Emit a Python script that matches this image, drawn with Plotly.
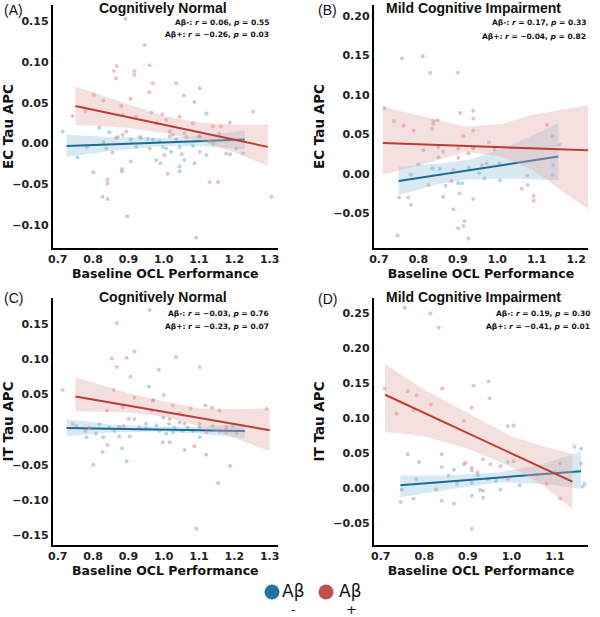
import plotly.graph_objects as go

# ---- panel A: EC tau, cognitively normal ----
a_neg_x = [0.714, 0.756, 0.818, 0.801, 0.846, 0.855, 0.870, 0.884, 0.907, 0.907, 0.922, 0.936, 0.955, 0.969,
           0.960, 0.965, 0.979, 0.988, 0.991, 0.998, 1.007, 1.017, 1.021, 1.035, 1.045, 1.045, 1.045, 1.059,
           1.059, 1.087, 1.087, 1.083, 1.100, 1.121, 1.121, 1.092, 0.897, 0.841, 0.882, 1.187, 1.188, 1.205,
           1.224, 1.158, 1.139, 0.782, 0.829]
a_neg_y = [0.015, -0.017, 0.019, -0.035, 0.014, -0.011, 0.008, 0.011, 0.005, -0.022, -0.004, 0.007, 0.006, 0.005,
           0.096, 0.038, -0.020, 0.003, -0.024, -0.004, -0.006, 0.009, -0.010, 0.005, -0.004, -0.028, -0.034, 0.013,
           -0.020, 0.051, -0.024, -0.003, 0.009, 0.037, -0.014, -0.115, -0.089, -0.068, -0.034, 0.026, -0.013, -0.006,
           -0.012, 0.012, 0.000, -0.004, 0.002]
a_pos_x = [0.892, 0.946, 0.867, 0.859, 0.917, 0.917, 0.865, 0.969, 1.035, 0.959, 1.102, 0.802, 1.057, 0.906,
           0.829, 0.742, 0.880, 0.996, 0.778, 0.884, 0.922, 1.045, 1.007, 0.979, 1.083, 1.139, 1.162, 1.253,
           1.017, 1.026, 1.064, 1.102, 1.130, 1.196, 0.865, 0.894, 0.932, 0.837, 0.960, 1.002, 1.102, 0.882,
           0.841, 0.841, 1.130, 1.154, 1.305, 0.827, 1.011, 1.051, 1.177]
a_pos_y = [0.153, 0.121, 0.095, 0.089, 0.089, 0.084, 0.080, 0.074, 0.074, 0.063, 0.068, 0.060, 0.059, 0.055,
           0.053, 0.034, 0.046, 0.036, 0.040, 0.035, 0.033, 0.033, 0.029, 0.025, 0.025, 0.021, 0.021, 0.039,
           0.015, 0.011, 0.008, 0.009, 0.003, 0.005, 0.007, 0.015, 0.008, -0.006, -0.006, -0.014, -0.010, -0.031,
           -0.044, -0.049, -0.047, -0.047, -0.065, -0.065, -0.037, -0.013, -0.012]
a_neg_fit_x = [0.725, 1.23]
a_neg_fit_y = [-0.003, 0.005]
a_neg_band_x = [0.725, 0.85, 1.0, 1.1, 1.23]
a_neg_band_hi = [0.011, 0.008, 0.007, 0.009, 0.016]
a_neg_band_lo = [-0.016, -0.009, -0.003, -0.003, -0.007]
a_pos_fit_x = [0.75, 1.295]
a_pos_fit_y = [0.046, -0.004]
a_pos_band_x = [0.75, 0.9, 1.0, 1.1, 1.2, 1.295]
a_pos_band_hi = [0.070, 0.048, 0.034, 0.026, 0.023, 0.023]
a_pos_band_lo = [0.023, 0.019, 0.013, 0.004, -0.011, -0.027]

# ---- panel B: EC tau, MCI ----
b_neg_x = [0.751, 0.781, 0.781, 0.800, 0.836, 0.849, 0.835, 0.851, 0.863, 0.863, 0.869, 0.889, 0.901, 0.911,
           0.901, 0.917, 0.928, 0.939, 0.954, 0.967, 0.973, 0.979, 1.006, 1.007, 1.077, 1.142, 1.140, 1.158,
           0.854]
b_neg_y = [-0.030, -0.039, -0.001, 0.012, 0.007, 0.068, 0.057, 0.021, 0.028, -0.029, -0.015, -0.045, -0.012, -0.012,
           -0.069, -0.060, 0.008, -0.032, 0.001, -0.006, 0.013, 0.040, 0.013, -0.008, -0.014, 0.011, -0.001, 0.037,
           0.006]
b_pos_x = [0.714, 0.738, 0.763, 0.758, 0.811, 0.830, 0.900, 0.788, 0.813, 0.838, 0.838, 0.906, 0.914, 0.939,
           0.939, 0.939, 0.939, 0.939, 0.927, 0.901, 0.901, 0.904, 0.774, 0.747, 0.914, 0.927, 0.825, 0.884,
           0.993, 1.126, 1.140, 1.076, 1.062, 1.092, 1.092, 0.889, 0.961, 0.851]
b_pos_y = [0.083, 0.067, 0.061, 0.146, 0.149, 0.128, 0.128, 0.055, 0.030, 0.067, 0.063, 0.077, 0.048, 0.080,
           0.070, 0.055, 0.034, 0.032, 0.026, 0.032, 0.020, -0.025, -0.030, -0.078, -0.066, -0.082, -0.014, -0.009,
           0.031, 0.062, 0.048, -0.002, -0.019, -0.028, -0.034, 0.005, 0.011, 0.034]
b_neg_fit_x = [0.75, 1.155]
b_neg_fit_y = [-0.009, 0.022]
b_neg_band_x = [0.75, 0.85, 0.93, 1.03, 1.155]
b_neg_band_hi = [0.009, 0.013, 0.018, 0.035, 0.064]
b_neg_band_lo = [-0.027, -0.013, -0.007, -0.006, -0.008]
b_pos_fit_x = [0.71, 1.23]
b_pos_fit_y = [0.039, 0.030]
b_pos_band_x = [0.71, 0.82, 0.92, 1.01, 1.09, 1.23]
b_pos_band_hi = [0.085, 0.072, 0.060, 0.063, 0.075, 0.087]
b_pos_band_lo = [-0.001, 0.013, 0.028, 0.022, 0.005, -0.045]

# ---- panel C: IT tau, cognitively normal ----
c_neg_x = [0.714, 0.801, 0.827, 0.895, 0.882, 0.958, 0.971, 1.118, 1.120, 1.092, 0.778, 0.782, 0.808, 0.818,
           0.829, 0.846, 0.860, 0.874, 0.874, 0.904, 0.917, 0.931, 0.950, 0.950, 0.979, 0.988, 0.999, 1.007,
           1.015, 1.026, 1.031, 1.045, 1.054, 1.068, 1.083, 1.102, 1.102, 1.139, 1.158, 1.177, 1.196, 1.207,
           0.997, 0.752]
c_neg_y = [0.056, -0.050, -0.032, -0.045, -0.027, 0.061, 0.042, 0.034, -0.036, -0.141, -0.002, -0.011, -0.006, 0.007,
           -0.011, 0.003, -0.002, 0.004, -0.010, -0.010, 0.015, 0.003, 0.008, 0.001, 0.006, -0.002, 0.017, -0.006,
           0.008, -0.004, 0.003, 0.010, -0.002, 0.003, -0.002, 0.003, -0.011, 0.005, -0.003, -0.004, 0.005, -0.005,
           -0.018, 0.005]
c_pos_x = [0.960, 0.867, 0.917, 0.853, 0.895, 0.867, 1.035, 1.102, 0.986, 0.906, 0.858, 0.917, 1.000, 0.969,
           0.839, 0.742, 0.884, 0.965, 1.026, 1.076, 1.137, 1.158, 1.291, 1.045, 1.017, 0.901, 0.887, 1.059,
           1.102, 1.121, 1.177, 0.841, 1.017, 1.059, 1.087, 1.188, 1.154, 0.790]
c_pos_y = [0.170, 0.151, 0.111, 0.101, 0.102, 0.089, 0.103, 0.089, 0.085, 0.075, 0.056, 0.045, 0.049, 0.041,
           0.027, 0.008, 0.032, 0.027, 0.034, 0.030, 0.031, 0.027, 0.029, 0.023, 0.015, 0.015, 0.005, 0.008,
           0.008, -0.004, 0.003, -0.022, -0.018, -0.029, -0.024, -0.052, -0.076, 0.003]
c_neg_fit_x = [0.725, 1.23]
c_neg_fit_y = [0.002, -0.002]
c_neg_band_x = [0.725, 0.85, 1.0, 1.1, 1.23]
c_neg_band_hi = [0.015, 0.007, 0.004, 0.004, 0.008]
c_neg_band_lo = [-0.010, -0.004, -0.003, -0.006, -0.012]
c_pos_fit_x = [0.75, 1.30]
c_pos_fit_y = [0.047, -0.001]
c_pos_band_x = [0.75, 0.9, 1.0, 1.1, 1.2, 1.30]
c_pos_band_hi = [0.074, 0.052, 0.040, 0.030, 0.029, 0.030]
c_pos_band_lo = [0.026, 0.024, 0.018, 0.005, -0.012, -0.031]

# ---- panel D: IT tau, MCI ----
d_neg_x = [0.762, 0.782, 0.775, 0.748, 0.840, 0.840, 0.855, 0.868, 0.868, 0.875, 0.891, 0.909, 0.909, 0.909,
           0.909, 0.923, 0.928, 0.965, 0.975, 0.992, 0.992, 1.019, 1.058, 1.100, 1.164, 1.160, 1.168, 0.946]
d_neg_y = [0.048, 0.013, -0.015, -0.002, 0.048, -0.018, 0.018, 0.026, -0.022, 0.006, 0.034, 0.025, 0.007, -0.011,
           -0.058, 0.018, -0.003, 0.010, -0.002, 0.088, 0.037, 0.004, 0.019, 0.023, 0.002, 0.056, 0.006, 0.013]
d_pos_x = [0.755, 0.814, 0.833, 0.709, 0.762, 0.782, 0.841, 0.736, 0.775, 0.815, 0.913, 0.948, 0.950, 0.909,
           0.891, 1.005, 0.788, 0.840, 0.895, 0.909, 0.935, 0.952, 0.975, 1.005, 0.922, 0.827, 0.935, 0.935,
           0.746, 1.081, 1.112, 1.112, 1.145, 1.160, 0.992]
d_pos_y = [0.257, 0.249, 0.229, 0.142, 0.138, 0.132, 0.142, 0.106, 0.111, 0.119, 0.146, 0.152, 0.128, 0.115,
           0.096, 0.089, 0.037, 0.030, 0.036, 0.029, 0.041, 0.034, 0.031, 0.038, 0.022, -0.002, -0.004, -0.014,
           -0.020, 0.006, -0.015, 0.035, 0.059, 0.035, 0.013]
d_neg_fit_x = [0.745, 1.16]
d_neg_fit_y = [0.004, 0.024]
d_neg_band_x = [0.745, 0.85, 0.97, 1.07, 1.16]
d_neg_band_hi = [0.018, 0.018, 0.022, 0.034, 0.052]
d_neg_band_lo = [-0.013, -0.003, 0.008, 0.006, -0.001]
d_pos_fit_x = [0.71, 1.14]
d_pos_fit_y = [0.133, 0.009]
d_pos_band_x = [0.71, 0.8, 0.9, 1.0, 1.07, 1.14]
d_pos_band_hi = [0.177, 0.140, 0.107, 0.074, 0.060, 0.049]
d_pos_band_lo = [0.080, 0.074, 0.056, 0.030, 0.005, -0.030]

NEG_PT = "rgba(120,180,210,0.55)"
POS_PT = "rgba(225,140,140,0.55)"
NEG_LINE = "#1a6a98"
POS_LINE = "#bf3b30"
NEG_BAND = "rgba(160,200,220,0.40)"
POS_BAND = "rgba(225,165,165,0.35)"

TICKFONT = dict(family="DejaVu Sans", size=11, color="#222", weight="bold")
AXTITLE = dict(family="DejaVu Sans", size=12.5, color="#111", weight="bold")

fig = go.Figure()


def add_group(ax, px, py, fx, fy, bx, bhi, blo, pt, line, band):
    xa, ya = ("x" + ax, "y" + ax) if ax else ("x", "y")
    fig.add_trace(go.Scatter(x=bx + bx[::-1], y=bhi + blo[::-1], fill="toself", fillcolor=band,
                             line=dict(width=0), mode="lines", hoverinfo="skip", showlegend=False,
                             xaxis=xa, yaxis=ya))
    fig.add_trace(go.Scatter(x=px, y=py, mode="markers", marker=dict(size=4, color=pt),
                             showlegend=False, xaxis=xa, yaxis=ya))
    fig.add_trace(go.Scatter(x=fx, y=fy, mode="lines", line=dict(color=line, width=2),
                             showlegend=False, xaxis=xa, yaxis=ya))


panels = [
    ("", a_neg_x, a_neg_y, a_neg_fit_x, a_neg_fit_y, a_neg_band_x, a_neg_band_hi, a_neg_band_lo,
     a_pos_x, a_pos_y, a_pos_fit_x, a_pos_fit_y, a_pos_band_x, a_pos_band_hi, a_pos_band_lo),
    ("2", b_neg_x, b_neg_y, b_neg_fit_x, b_neg_fit_y, b_neg_band_x, b_neg_band_hi, b_neg_band_lo,
     b_pos_x, b_pos_y, b_pos_fit_x, b_pos_fit_y, b_pos_band_x, b_pos_band_hi, b_pos_band_lo),
    ("3", c_neg_x, c_neg_y, c_neg_fit_x, c_neg_fit_y, c_neg_band_x, c_neg_band_hi, c_neg_band_lo,
     c_pos_x, c_pos_y, c_pos_fit_x, c_pos_fit_y, c_pos_band_x, c_pos_band_hi, c_pos_band_lo),
    ("4", d_neg_x, d_neg_y, d_neg_fit_x, d_neg_fit_y, d_neg_band_x, d_neg_band_hi, d_neg_band_lo,
     d_pos_x, d_pos_y, d_pos_fit_x, d_pos_fit_y, d_pos_band_x, d_pos_band_hi, d_pos_band_lo),
]
for p in panels:
    add_group(p[0], *p[1:8], NEG_PT, NEG_LINE, NEG_BAND)
    add_group(p[0], *p[8:15], POS_PT, POS_LINE, POS_BAND)


def xax(dom, rng, tv, anchor):
    return dict(domain=dom, range=rng, tickvals=tv, tickformat=".1f", showline=True, linecolor="black",
                linewidth=2, showgrid=False, zeroline=False, ticks="", tickfont=TICKFONT, anchor=anchor,
                automargin=False, title=dict(text="Baseline OCL Performance", font=AXTITLE, standoff=0))


def yax(dom, rng, tv, anchor, title):
    return dict(domain=dom, range=rng, tickvals=tv, tickformat=".2f", showline=True, linecolor="black",
                linewidth=2, showgrid=False, zeroline=False, ticks="", tickfont=TICKFONT, anchor=anchor,
                automargin=False,
                title=dict(text=title, font=dict(family="DejaVu Sans", size=13.5, color="#111", weight="bold"),
                           standoff=6))


top_dom = [0.598, 0.992]
bot_dom = [0.117, 0.517]
left_dom = [0.088, 0.463]
right_dom = [0.623, 0.98]

fig.update_layout(
    width=600, height=617, margin=dict(l=0, r=0, t=0, b=0, autoexpand=False),
    plot_bgcolor="white", paper_bgcolor="white", showlegend=False,
    xaxis=xax(left_dom, [0.686, 1.323], [0.7, 0.8, 0.9, 1.0, 1.1, 1.2, 1.3], "y"),
    yaxis=yax(top_dom, [-0.128, 0.17], [-0.10, -0.05, 0.0, 0.05, 0.10, 0.15], "x", "EC Tau APC"),
    xaxis2=xax(right_dom, [0.687, 1.23], [0.7, 0.8, 0.9, 1.0, 1.1, 1.2], "y2"),
    yaxis2=yax(top_dom, [-0.094, 0.214], [-0.05, 0.0, 0.05, 0.10, 0.15, 0.20], "x2", "EC Tau APC"),
    xaxis3=xax(left_dom, [0.686, 1.323], [0.7, 0.8, 0.9, 1.0, 1.1, 1.2, 1.3], "y3"),
    yaxis3=yax(bot_dom, [-0.164, 0.187], [-0.15, -0.10, -0.05, 0.0, 0.05, 0.10, 0.15], "x3", "IT Tau APC"),
    xaxis4=xax(right_dom, [0.684, 1.176], [0.7, 0.8, 0.9, 1.0, 1.1], "y4"),
    yaxis4=yax(bot_dom, [-0.081, 0.271], [-0.05, 0.0, 0.05, 0.10, 0.15, 0.20, 0.25], "x4", "IT Tau APC"),
)

W, H = 600.0, 617.0


def note(px, py, text, size, family="Liberation Sans", bold=False, xanchor="center"):
    fig.add_annotation(x=px / W, y=1 - py / H, xref="paper", yref="paper", text=text, showarrow=False,
                       xanchor=xanchor, yanchor="middle",
                       font=dict(family=family, size=size, color="#111", weight="bold" if bold else "normal"))


# panel titles and letters
note(163, 8, "Cognitively Normal", 14, bold=True)
note(473, 8, "Mild Cognitive Impairment", 14, bold=True)
note(163, 297, "Cognitively Normal", 14, bold=True)
note(473, 297, "Mild Cognitive Impairment", 14, bold=True)
note(2, 10, "(A)", 14, xanchor="left")
note(316, 10, "(B)", 14, xanchor="left")
note(2, 298, "(C)", 14, xanchor="left")
note(316, 299, "(D)", 14, xanchor="left")

# correlation stats
stats = [
    (271, 23, "Aβ-: <i>r</i> = 0.06, <i>p</i> = 0.55"),
    (271, 35, "Aβ+: <i>r</i> = −0.26, <i>p</i> = 0.03"),
    (588, 23, "Aβ-: <i>r</i> = 0.17, <i>p</i> = 0.33"),
    (588, 36, "Aβ+: <i>r</i> = −0.04, <i>p</i> = 0.82"),
    (271, 313, "Aβ-: <i>r</i> = −0.03, <i>p</i> = 0.76"),
    (271, 326, "Aβ+: <i>r</i> = −0.23, <i>p</i> = 0.07"),
    (592, 313, "Aβ-: <i>r</i> = 0.19, <i>p</i> = 0.30"),
    (592, 326, "Aβ+: <i>r</i> = −0.41, <i>p</i> = 0.01"),
]
for sx, sy, st in stats:
    note(sx, sy, st, 7.5, family="DejaVu Sans", bold=True, xanchor="right")

# legend
for cx, col in [(272, "#24739f"), (326, "#c0504d")]:
    fig.add_shape(type="circle", xref="paper", yref="paper", xsizemode="pixel", ysizemode="pixel",
                  xanchor=cx / W, yanchor=1 - 592 / H, x0=-7.5, x1=7.5, y0=-7.5, y1=7.5,
                  fillcolor=col, line=dict(width=0))
note(293, 591, "Aβ", 17, family="DejaVu Sans")
note(350, 591, "Aβ", 17, family="DejaVu Sans")
note(293, 609, "-", 13, family="DejaVu Sans")
note(351, 609, "+", 13, family="DejaVu Sans")

fig.write_html("out.html", config={"displayModeBar": False},
               post_script="document.body.style.margin='0';")
